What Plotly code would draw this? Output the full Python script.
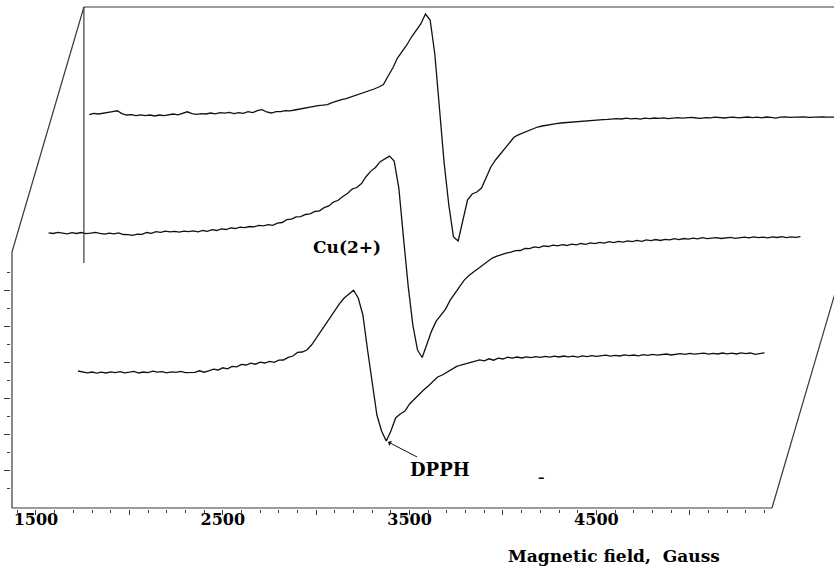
import numpy as np
import plotly.graph_objects as go

# ---------------------------------------------------------------
# EPR spectra (first-derivative signal), sampled every 25 G.
# Signal values are in arbitrary intensity units.
# ---------------------------------------------------------------
FIELD_STEP = 25

# front spectrum, DPPH marker at its minimum
dpph_start = 1725
dpph_signal = [
    68.5, 68.2, 67.6, 68.0, 67.4, 67.9, 67.5, 68.1, 67.7, 68.2,
    67.6, 67.9, 68.3, 67.5, 68.0, 67.7, 68.4, 67.9, 68.2, 67.6,
    68.1, 67.8, 68.3, 67.7, 67.9, 67.8, 68.6, 67.9, 68.6, 69.4,
    69.0, 70.1, 69.6, 70.8, 70.6, 71.8, 71.5, 72.4, 71.9, 72.9,
    72.5, 73.3, 72.8, 73.9, 74.0, 75.3, 76.0, 77.8, 78.0, 79.0,
    81.5, 85.0, 88.7, 92.0, 95.7, 99.0, 102.2, 105.0, 107.0, 108.9,
    105.0, 96.5, 79.0, 63.0, 46.5, 38.5, 33.5, 38.5, 45.0, 47.0,
    48.5, 52.0, 54.5, 56.7, 59.0, 61.0, 63.5, 65.5, 66.5, 68.0,
    69.2, 70.7, 71.5, 72.2, 73.0, 73.5, 74.1, 73.6, 74.6, 73.9,
    74.9, 74.5, 75.4, 74.9, 75.5, 75.0, 75.6, 75.2, 75.7, 75.3,
    75.8, 75.4, 75.9, 75.5, 76.0, 75.6, 75.9, 75.4, 76.1, 75.7,
    76.2, 75.8, 76.0, 76.4, 75.9, 76.3, 76.0, 76.6, 76.2, 76.5,
    76.1, 76.7, 76.3, 76.8, 76.4, 76.6, 77.0, 76.5, 76.9, 77.2,
    76.8, 77.3, 76.9, 77.1, 77.4, 76.9, 77.3, 77.0, 77.5, 77.1,
    77.4, 77.0, 77.6, 77.2, 77.5, 76.8, 77.3, 77.6,
]

# middle spectrum, Cu(2+)
cu_start = 1375
cu_signal = [
    76.3, 76.0, 76.6, 76.1, 75.8, 76.4, 76.0, 76.5, 75.9, 76.2,
    76.6, 76.1, 75.7, 76.2, 75.8, 76.3, 75.5, 75.4, 75.1, 75.7,
    75.6, 76.5, 76.1, 76.9, 76.6, 77.2, 76.8, 77.1, 76.7, 77.2,
    76.9, 77.3, 76.8, 77.5, 77.1, 77.9, 77.5, 78.3, 78.0, 78.8,
    78.5, 79.2, 78.9, 79.5, 79.3, 80.1, 79.8, 80.4, 80.1, 81.2,
    81.5, 82.9, 83.2, 84.3, 84.4, 85.5, 85.8, 87.0, 87.3, 88.9,
    89.8, 91.7, 92.6, 94.5, 96.0, 98.2, 99.0, 101.0, 104.5, 107.2,
    109.0, 111.9, 113.2, 114.7, 112.2, 98.7, 73.7, 49.7, 30.2, 17.7,
    14.0, 21.2, 27.2, 32.2, 35.2, 38.2, 42.7, 46.2, 49.7, 52.7,
    55.0, 56.7, 58.5, 60.5, 62.2, 63.7, 64.7, 65.5, 66.2, 66.7,
    67.4, 67.5, 68.5, 68.4, 69.3, 68.9, 69.8, 69.5, 70.2, 69.8,
    70.4, 70.0, 70.7, 70.3, 71.0, 70.6, 71.3, 70.9, 71.6, 71.2,
    71.9, 71.4, 72.1, 71.7, 72.3, 71.9, 72.6, 72.1, 72.8, 72.4,
    73.0, 72.5, 73.1, 72.8, 73.4, 72.9, 73.5, 73.2, 73.7, 73.3,
    73.9, 73.4, 73.6, 73.9, 73.5, 73.9, 74.1, 73.6, 73.8, 74.2,
    73.8, 74.3, 73.9, 74.2, 73.8, 74.3, 74.0, 74.4, 73.9, 74.3,
    74.1, 74.4,
]

# back spectrum
back_start = 1400
back_signal = [
    74.2, 74.8, 74.5, 75.0, 75.2, 75.7, 76.1, 74.7, 74.0, 74.2,
    73.7, 74.1, 73.7, 74.0, 73.5, 74.0, 73.7, 74.2, 74.5, 74.1,
    75.0, 75.6, 74.7, 74.3, 74.7, 74.5, 75.0, 74.6, 75.2, 74.9,
    75.3, 74.7, 75.2, 74.8, 75.7, 75.2, 76.2, 76.7, 75.5, 75.0,
    75.7, 75.7, 76.2, 76.1, 76.5, 77.0, 77.5, 77.7, 78.2, 78.7,
    78.9, 79.2, 80.2, 81.0, 81.7, 82.2, 83.0, 83.7, 84.5, 85.2,
    86.0, 87.0, 88.0, 89.2, 93.5, 97.5, 102.5, 105.5, 109.0, 113.0,
    116.5, 119.5, 124.5, 121.5, 104.5, 75.0, 50.0, 29.0, 13.0, 11.0,
    20.5, 31.5, 34.5, 35.5, 37.5, 43.0, 48.0, 51.5, 54.5, 57.5,
    60.5, 63.0, 64.2, 65.2, 66.2, 67.2, 68.0, 68.5, 69.0, 69.2,
    69.7, 70.0, 70.2, 70.5, 70.7, 71.0, 71.2, 71.3, 71.5, 71.6,
    71.7, 71.8, 72.0,
    72.2, 72.0, 72.4, 72.1, 72.3, 71.9, 72.4, 72.2, 72.5, 72.3,
    72.6, 72.2, 72.5, 72.7, 72.4, 72.6, 72.8, 72.5, 72.3, 72.7,
    72.6, 72.9, 72.7, 72.5, 72.8, 72.9, 72.6, 72.8, 73.0, 72.7,
    72.9, 72.6, 73.0, 72.8, 72.4, 72.9, 73.1, 72.8, 73.0, 72.9,
    73.1, 72.8, 73.0, 72.9, 73.1, 72.9, 73.0, 72.9,
]

spectra_start = [dpph_start, cu_start, back_start]
spectra_signal = [dpph_signal, cu_signal, back_signal]
spectra_depth = [0.0, 0.5, 1.0]          # position along the depth axis

# ---------------------------------------------------------------
# Oblique "3-D" frame: full depth shifts by (DEPTH_DX, DEPTH_DY)
# ---------------------------------------------------------------
DEPTH_DX = 385.0        # Gauss
DEPTH_DY = 122.5        # intensity units
PANEL_FIELD = (1371.5, 5440.0)
PANEL_HEIGHT = 128.0

X_RANGE = [1366.2, 5772.0]
Y_RANGE = [-0.5, 254.0]

x_major = [1500, 2000, 2500, 3000, 3500, 4000, 4500, 5000]
x_major_text = ["<b>1500</b>", "", "<b>2500</b>", "", "<b>3500</b>", "",
                "<b>4500</b>", ""]
x_minor = [v for v in range(1400, 5401, 100) if v not in x_major]
y_major = [19, 37, 55, 73, 91, 109]
y_minor = [10, 28, 46, 64, 82, 100, 118]

TEXT_FONT = "DejaVu Serif"
LINE_COLOR = "#111111"
FRAME_COLOR = "#3a3a3a"

fig = go.Figure()

for start, sig, depth in zip(spectra_start, spectra_signal, spectra_depth):
    sig = np.asarray(sig, dtype=float)
    field = start + FIELD_STEP * np.arange(sig.size)
    fig.add_trace(go.Scatter(
        x=field + depth * DEPTH_DX,
        y=sig + depth * DEPTH_DY,
        mode="lines",
        line=dict(color=LINE_COLOR, width=1.3),
        hoverinfo="skip",
        showlegend=False,
    ))

# frame edges
x0, x1 = PANEL_FIELD
H = PANEL_HEIGHT
edges = [
    (x0, 0, x0, H),                                   # front vertical axis
    (x0, 0, x1, 0),                                   # front field axis
    (x0, H, x0 + DEPTH_DX, H + DEPTH_DY),             # left depth edge
    (x0 + DEPTH_DX, DEPTH_DY, x0 + DEPTH_DX, H + DEPTH_DY),  # back vertical
    (x0 + DEPTH_DX, H + DEPTH_DY, x1 + DEPTH_DX, H + DEPTH_DY),  # back top
    (x1, 0, x1 + DEPTH_DX, DEPTH_DY),                 # right depth edge
]
for ex0, ey0, ex1, ey1 in edges:
    fig.add_shape(type="line", xref="x", yref="y",
                  x0=ex0, y0=ey0, x1=ex1, y1=ey1,
                  line=dict(color=FRAME_COLOR, width=1.2))

# labels
i_min = int(np.argmin(dpph_signal))
fig.add_annotation(
    x=dpph_start + FIELD_STEP * i_min, y=dpph_signal[i_min],
    xref="x", yref="y", text="<b>DPPH</b>",
    showarrow=True, arrowhead=1, arrowsize=1, arrowwidth=1,
    arrowcolor=LINE_COLOR, ax=54, ay=28, standoff=2,
    font=dict(family=TEXT_FONT, size=18, color="black"),
)
fig.add_annotation(
    x=3165, y=130.5, xref="x", yref="y", text="<b>Cu(2+)</b>",
    showarrow=False,
    font=dict(family=TEXT_FONT, size=17, color="black"),
)
fig.add_annotation(
    x=4206, y=15.5, xref="x", yref="y", text="<b>\u2013</b>",
    showarrow=False,
    font=dict(family=TEXT_FONT, size=13, color="black"),
)
fig.add_annotation(
    x=0.7327, y=-0.0923, xref="paper", yref="paper",
    xanchor="center", yanchor="middle",
    text="<b>Magnetic field,\u00a0\u00a0Gauss</b>", showarrow=False,
    font=dict(family=TEXT_FONT, size=17, color="black"),
)

fig.update_xaxes(
    range=X_RANGE, showgrid=False, zeroline=False, showline=False,
    tickmode="array", tickvals=x_major, ticktext=x_major_text,
    ticks="outside", ticklen=5, tickwidth=1, tickcolor=FRAME_COLOR,
    tickfont=dict(family=TEXT_FONT, size=16, color="black"),
    ticklabelstandoff=-9,
    minor=dict(tickmode="array", tickvals=x_minor, ticks="outside",
               ticklen=3, tickwidth=1, tickcolor=FRAME_COLOR),
    automargin=False, fixedrange=True,
)
fig.update_yaxes(
    range=Y_RANGE, showgrid=False, zeroline=False, showline=False,
    tickmode="array", tickvals=y_major, showticklabels=False,
    ticks="outside", ticklen=6, tickwidth=1, tickcolor=FRAME_COLOR,
    minor=dict(tickmode="array", tickvals=y_minor, ticks="outside",
               ticklen=3, tickwidth=1, tickcolor=FRAME_COLOR),
    automargin=False, fixedrange=True,
)

fig.update_layout(
    width=834, height=569,
    margin=dict(l=11, r=0, t=0, b=60, pad=0),
    paper_bgcolor="white", plot_bgcolor="white",
    showlegend=False,
)

fig.write_html("out.html")
